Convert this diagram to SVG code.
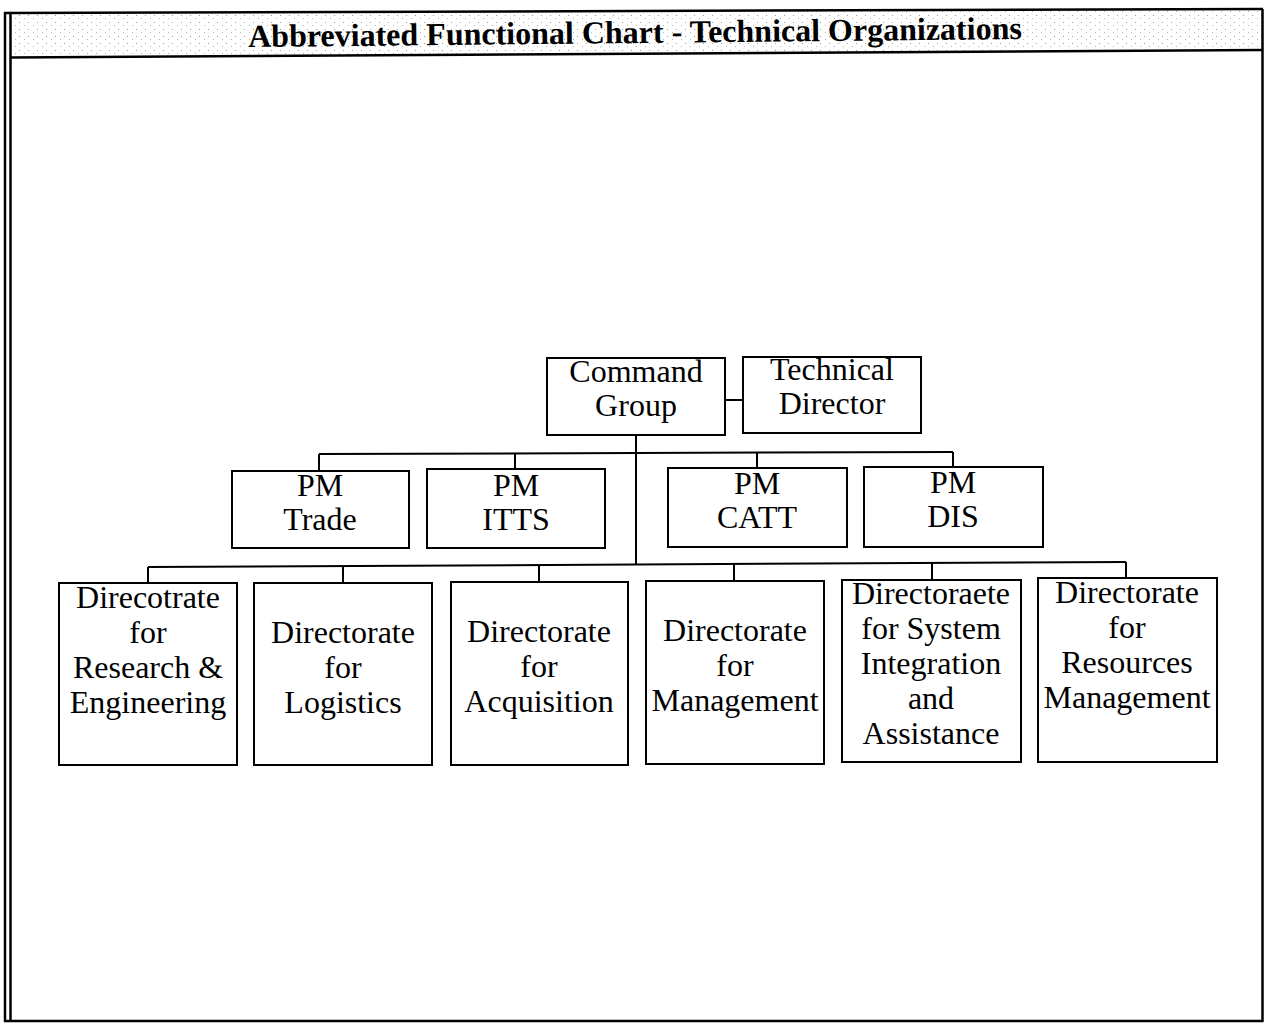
<svg xmlns="http://www.w3.org/2000/svg" width="1264" height="1024" viewBox="0 0 1264 1024">
  <style>
    .frame { fill: none; stroke: #000; stroke-width: 2.5; }
    .box { fill: #fff; stroke: #000; stroke-width: 2; }
    .wire { fill: none; stroke: #000; stroke-width: 2; }
    .lbl { font-family: "Liberation Serif", "Times New Roman", serif; font-size: 32px; fill: #000; text-anchor: middle; }
    .title { font-family: "Liberation Serif", "Times New Roman", serif; font-size: 32px; font-weight: bold; fill: #000; text-anchor: middle; }
  </style>
  <defs>
    <pattern id="stipple" width="9" height="7" patternUnits="userSpaceOnUse">
      <rect width="9" height="7" fill="#fff"/>
      <rect x="1" y="1" width="1" height="1" fill="#9a9a9a"/>
      <rect x="6" y="4" width="1" height="1" fill="#b5b5b5"/>
    </pattern>
  </defs>

  <rect width="1264" height="1024" fill="#fff"/>

  <!-- page frame and title band -->
  <g id="frame">
    <polygon points="10,13 1262,9 1262,50 10,57" fill="url(#stipple)"/>
    <line class="frame" x1="4" y1="13" x2="1263" y2="9"/>
    <line class="frame" x1="10" y1="57.5" x2="1263" y2="50"/>
    <line class="frame" x1="5" y1="12" x2="5" y2="1022"/>
    <line class="frame" x1="10.5" y1="13" x2="10.5" y2="1022"/>
    <line class="frame" x1="1262.5" y1="9" x2="1262.5" y2="1022"/>
    <line class="frame" x1="4" y1="1021" x2="1263" y2="1021"/>
    <text class="title" x="635" y="43" transform="rotate(-0.6 635 35)">Abbreviated Functional Chart - Technical Organizations</text>
  </g>

  <!-- connectors -->
  <g id="connectors">
    <line class="wire" x1="725" y1="400" x2="743" y2="400"/>
    <line class="wire" x1="636" y1="435" x2="636" y2="565"/>
    <line class="wire" x1="319" y1="454" x2="953" y2="452"/>
    <line class="wire" x1="319" y1="454" x2="319" y2="471"/>
    <line class="wire" x1="515" y1="453" x2="515" y2="469"/>
    <line class="wire" x1="757" y1="452" x2="757" y2="468"/>
    <line class="wire" x1="953" y1="452" x2="953" y2="467"/>
    <line class="wire" x1="148" y1="567" x2="1126" y2="562"/>
    <line class="wire" x1="148" y1="567" x2="148" y2="583"/>
    <line class="wire" x1="343" y1="566" x2="343" y2="583"/>
    <line class="wire" x1="539" y1="565" x2="539" y2="582"/>
    <line class="wire" x1="734" y1="564" x2="734" y2="581"/>
    <line class="wire" x1="932" y1="563" x2="932" y2="580"/>
    <line class="wire" x1="1126" y1="562" x2="1126" y2="578"/>
  </g>

  <!-- top level -->
  <g id="command-group">
    <rect class="box" x="547" y="358" width="178" height="77"/>
    <text class="lbl" x="636" y="382">Command</text>
    <text class="lbl" x="636" y="416">Group</text>
  </g>
  <g id="technical-director">
    <rect class="box" x="743" y="357" width="178" height="76"/>
    <text class="lbl" x="832" y="380">Technical</text>
    <text class="lbl" x="832" y="414">Director</text>
  </g>

  <!-- project managers -->
  <g id="pm-trade">
    <rect class="box" x="232" y="471" width="177" height="77"/>
    <text class="lbl" x="320" y="496">PM</text>
    <text class="lbl" x="320" y="530">Trade</text>
  </g>
  <g id="pm-itts">
    <rect class="box" x="427" y="469" width="178" height="79"/>
    <text class="lbl" x="516" y="496">PM</text>
    <text class="lbl" x="516" y="530">ITTS</text>
  </g>
  <g id="pm-catt">
    <rect class="box" x="668" y="468" width="179" height="79"/>
    <text class="lbl" x="757" y="494">PM</text>
    <text class="lbl" x="757" y="528">CATT</text>
  </g>
  <g id="pm-dis">
    <rect class="box" x="864" y="467" width="179" height="80"/>
    <text class="lbl" x="953" y="493">PM</text>
    <text class="lbl" x="953" y="527">DIS</text>
  </g>

  <!-- directorates -->
  <g id="dir-research">
    <rect class="box" x="59" y="583" width="178" height="182"/>
    <text class="lbl" x="148" y="608">Direcotrate</text>
    <text class="lbl" x="148" y="643">for</text>
    <text class="lbl" x="148" y="678">Research &amp;</text>
    <text class="lbl" x="148" y="713">Engineering</text>
  </g>
  <g id="dir-logistics">
    <rect class="box" x="254" y="583" width="178" height="182"/>
    <text class="lbl" x="343" y="643">Directorate</text>
    <text class="lbl" x="343" y="678">for</text>
    <text class="lbl" x="343" y="713">Logistics</text>
  </g>
  <g id="dir-acquisition">
    <rect class="box" x="451" y="582" width="177" height="183"/>
    <text class="lbl" x="539" y="642">Directorate</text>
    <text class="lbl" x="539" y="677">for</text>
    <text class="lbl" x="539" y="712">Acquisition</text>
  </g>
  <g id="dir-management">
    <rect class="box" x="646" y="581" width="178" height="183"/>
    <text class="lbl" x="735" y="641">Directorate</text>
    <text class="lbl" x="735" y="676">for</text>
    <text class="lbl" x="735" y="711">Management</text>
  </g>
  <g id="dir-system-integration">
    <rect class="box" x="842" y="580" width="179" height="182"/>
    <text class="lbl" x="931" y="604">Directoraete</text>
    <text class="lbl" x="931" y="639">for System</text>
    <text class="lbl" x="931" y="674">Integration</text>
    <text class="lbl" x="931" y="709">and</text>
    <text class="lbl" x="931" y="744">Assistance</text>
  </g>
  <g id="dir-resources">
    <rect class="box" x="1038" y="578" width="179" height="184"/>
    <text class="lbl" x="1127" y="603">Directorate</text>
    <text class="lbl" x="1127" y="638">for</text>
    <text class="lbl" x="1127" y="673">Resources</text>
    <text class="lbl" x="1127" y="708">Management</text>
  </g>
</svg>
